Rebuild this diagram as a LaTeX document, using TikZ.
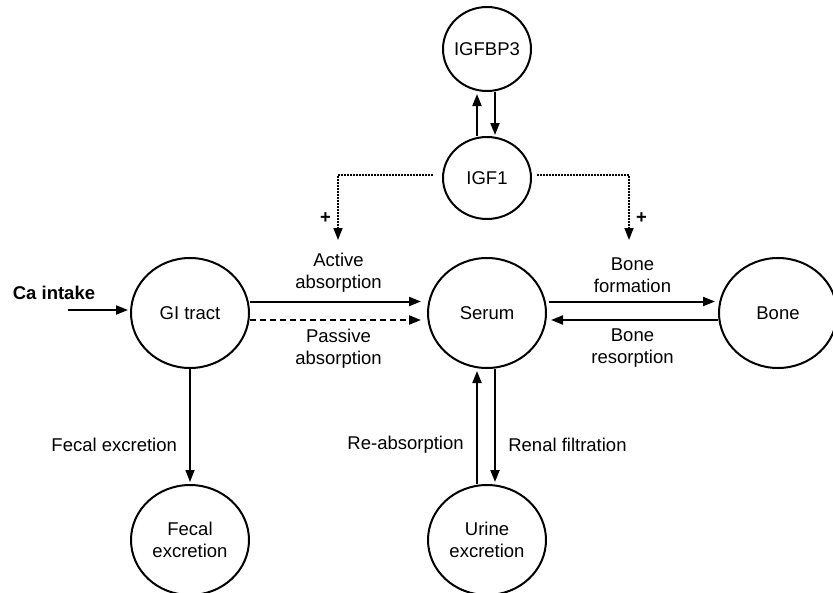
\documentclass[tikz,border=0pt]{standalone}
\usepackage{fontspec}
\setmainfont{Liberation Sans}
\usetikzlibrary{arrows.meta,shapes.geometric}
\newcommand{\poolfont}{\fontsize{18.5}{22}\selectfont}

\begin{document}
\begin{tikzpicture}[x=1pt, y=-1pt, node distance=297pt, font=\poolfont]
  % Define styles
  \tikzstyle{pool}=[ellipse, draw=black, line width=2pt, minimum width=118pt, minimum height=110pt, inner sep=0pt, align=center]
  \tikzstyle{hormone}=[pool, minimum width=88pt, minimum height=82pt, inner xsep=-4pt]
  \tikzstyle{flow}=[-{Triangle[length=12pt,width=9pt]}, line width=2pt]
  \tikzstyle{passive}=[flow, dash pattern=on 6pt off 4pt]
  \tikzstyle{loss}=[flow, line width=1.5pt]
  \tikzstyle{signal}=[-{Triangle[length=12pt,width=9pt]}, line width=1.6pt, dash pattern=on 1.6pt off 1.4pt]
  \tikzstyle{rate}=[align=center, inner sep=3pt]

  \useasboundingbox (0,0) rectangle (833,592);

  % Pools
  \node[pool] (serum) at (487,313) {Serum};
  \node[pool, left of=serum] (gi) {GI tract};
  \node[pool, right of=serum, node distance=291pt] (bone) {Bone};
  \node[hormone, above of=serum, node distance=135pt] (igf) {IGF1};
  \node[hormone, above of=igf, node distance=129pt, minimum height=84pt] (igfbp) {IGFBP3};
  \node[pool, below of=gi, node distance=227pt] (fecal) {Fecal\\excretion};
  \node[pool, below of=serum, node distance=227pt] (urine) {Urine\\excretion};

  % Intake
  \node[font=\poolfont\bfseries] (intakelbl) at (54,293) {Ca intake};
  \coordinate (intake) at (68,310);
  \draw[flow, shorten >=2pt] (intake) -- (intake -| gi.west);

  % Absorption
  \draw[flow, shorten >=6pt] ([yshift=11.5pt]gi.east) -- node[rate, above=5pt] (activelbl) {Active\\absorption} ([yshift=11.5pt]serum.west);
  \draw[passive, shorten >=6pt] ([yshift=-7pt]gi.east) -- node[rate, below=5pt] (passivelbl) {Passive\\absorption} ([yshift=-7pt]serum.west);

  % Bone turnover
  \draw[flow, shorten >=3pt, shorten <=2pt] ([yshift=11.5pt]serum.east) -- node[rate, above=5pt] (formlbl) {Bone\\formation} ([yshift=11.5pt]bone.west);
  \draw[flow, shorten >=4pt] ([yshift=-7pt]bone.west) -- node[rate, below=5pt] (resorplbl) {Bone\\resorption} ([yshift=-7pt]serum.east);

  % Excretion
  \draw[loss, shorten >=2pt] (gi) -- node[pos=0.66, left=9pt] (fecallbl) {Fecal excretion} (fecal);
  \draw[flow, shorten >=2pt] ([xshift=-10pt]urine.north) -- node[pos=0.34, left=9pt] (reabslbl) {Re-absorption} ([xshift=-10pt]serum.south);
  \draw[flow, shorten >=2pt] ([xshift=8pt]serum.south) -- node[pos=0.66, right=9pt] (renallbl) {Renal filtration} ([xshift=8pt]urine.north);

  % IGF1 and binding protein
  \draw[flow, shorten >=2pt] ([xshift=-10pt]igf.north) -- ([xshift=-10pt]igfbp.south);
  \draw[flow, shorten >=1pt] ([xshift=8pt]igfbp.south) -- ([xshift=8pt]igf.north);

  % IGF1 stimulation
  \coordinate (activetip) at (338,240);
  \coordinate (bonetip) at (629,240);
  \draw[signal] ([shift={(-9pt,3pt)}]igf.west) -| node[pos=0.83, left=3pt, font=\poolfont\bfseries] (plusa) {+} (activetip);
  \draw[signal] ([shift={(5pt,3pt)}]igf.east) -| node[pos=0.83, right=3pt, font=\poolfont\bfseries] (plusb) {+} (bonetip);
\end{tikzpicture}
\end{document}
